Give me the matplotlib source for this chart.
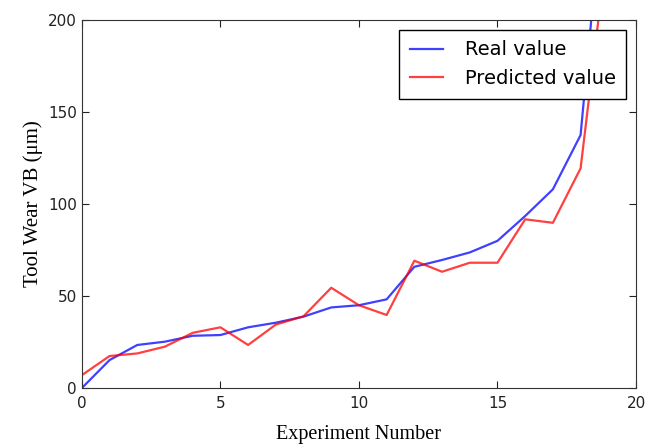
import numpy as np
import matplotlib.pyplot as plt

# experiment index 0..19
experiments = list(range(20))
real_values = [0, 15.2, 23.4, 25.2, 28.4, 28.8, 33.0, 35.5, 38.8, 43.8,
               45.0, 48.2, 65.9, 69.6, 73.7, 80.0, 93.5, 108.0, 137.5, 300.0]
predicted_values = [7.0, 17.4, 18.8, 22.5, 30.0, 33.0, 23.4, 34.5, 39.0, 54.5,
                    45.0, 39.7, 69.2, 63.2, 68.1, 68.1, 91.7, 89.8, 119.4, 245.0]

fig = plt.figure(figsize=(6.55, 4.46), dpi=100)
ax = fig.add_axes([0.125, 0.130, 0.846, 0.825])

ax.plot(experiments, real_values, color='b', alpha=0.75, lw=1.6, label='Real value')
ax.plot(experiments, predicted_values, color='r', alpha=0.75, lw=1.6, label='Predicted value')

ax.set_xlim(0, 20)
ax.set_ylim(0, 200)
ax.set_xticks([0, 5, 10, 15, 20])
ax.set_yticks([0, 50, 100, 150, 200])
ax.tick_params(direction='in', top=True, right=True, length=5, labelsize=11, colors='#222222')
ax.tick_params(axis='x', pad=6)
for s in ax.spines.values():
    s.set_color('#333333')

ax.set_xlabel('Experiment Number', family='Liberation Serif', fontsize=14.5, labelpad=10)
ax.set_ylabel('Tool Wear VB (\u03bcm)', family='Liberation Serif', fontsize=15)

leg = ax.legend(loc='upper right', fontsize=14, fancybox=False, framealpha=1,
                edgecolor='black', handlelength=1.7, handletextpad=1.1,
                borderpad=0.55, labelspacing=0.5)
leg.get_frame().set_linewidth(1.0)

fig.savefig('out.png', dpi=100)
